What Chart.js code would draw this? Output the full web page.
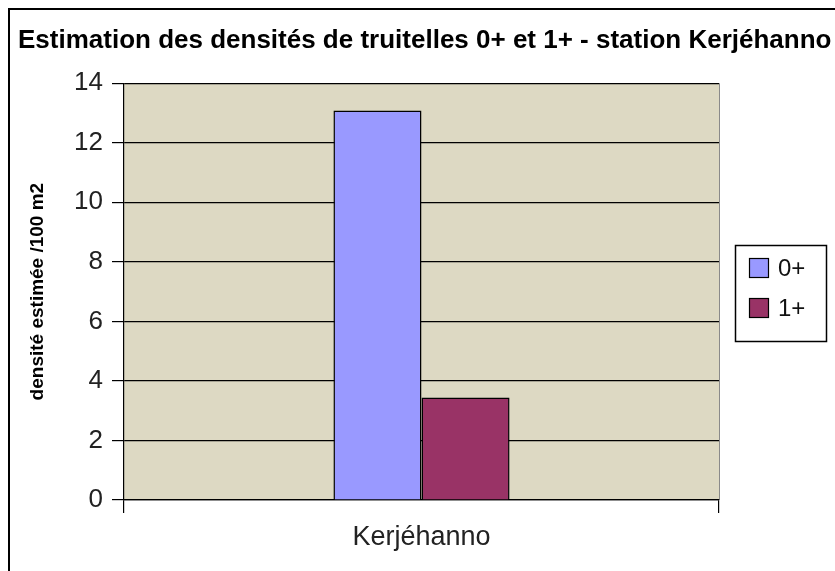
<!DOCTYPE html>
<html>
<head>
<meta charset="utf-8">
<script src="https://cdn.jsdelivr.net/npm/chart.js@4.4.1/dist/chart.umd.min.js"></script>
<style>
html,body{margin:0;padding:0;background:#fff;}
#wrap{width:835px;height:571px;}
</style>
</head>
<body>
<div id="wrap"><canvas id="c" width="835" height="571"></canvas></div>
<script>
// ---- data ----
const categories = ['Kerjéhanno'];
const seriesNames = ['0+', '1+'];
const values0 = [13.08];
const values1 = [3.44];
const yTicks = [0, 2, 4, 6, 8, 10, 12, 14];
const titleText = 'Estimation des densités de truitelles 0+ et 1+ - station Kerjéhanno';
const yTitle = 'densité estimée /100 m2';

const FONT = "'Liberation Sans', Arial, sans-serif";

const bgPlugin = {
  id: 'bg',
  beforeDraw(chart) {
    const {ctx, chartArea: a} = chart;
    ctx.save();
    ctx.fillStyle = '#fff';
    ctx.fillRect(0, 0, chart.width, chart.height);
    ctx.fillStyle = '#DDD9C3';
    ctx.fillRect(a.left, a.top, a.right - a.left, a.bottom - a.top);
    ctx.strokeStyle = '#8a8a8a';
    ctx.lineWidth = 1;
    ctx.beginPath();
    ctx.moveTo(a.right + 0.5, a.top);
    ctx.lineTo(a.right + 0.5, a.bottom);
    ctx.stroke();
    // outer frame
    ctx.strokeStyle = '#000';
    ctx.lineWidth = 2;
    ctx.beginPath();
    ctx.moveTo(9, chart.height);
    ctx.lineTo(9, 9);
    ctx.lineTo(chart.width, 9);
    ctx.stroke();
    ctx.restore();
  }
};

const legendPlugin = {
  id: 'boxLegend',
  afterDraw(chart) {
    const ctx = chart.ctx;
    const bx = 735, by = 245, bw = 91, bh = 96;
    ctx.save();
    ctx.fillStyle = '#fff';
    ctx.fillRect(bx, by, bw, bh);
    ctx.strokeStyle = '#000';
    ctx.lineWidth = 1.5;
    ctx.strokeRect(bx + 0.5, by + 0.5, bw, bh);
    chart.data.datasets.forEach((ds, i) => {
      const sy = 258 + i * 40;
      ctx.fillStyle = ds.backgroundColor;
      ctx.fillRect(749, sy, 20, 20);
      ctx.strokeStyle = '#000';
      ctx.lineWidth = 1.2;
      ctx.strokeRect(749.5, sy + 0.5, 19, 19);
      ctx.fillStyle = '#111';
      ctx.font = '24px ' + FONT;
      ctx.textBaseline = 'middle';
      ctx.textAlign = 'left';
      ctx.fillText(ds.label, 778, sy + 11);
    });
    ctx.restore();
  }
};

new Chart(document.getElementById('c'), {
  type: 'bar',
  data: {
    labels: categories,
    datasets: [
      {label: seriesNames[0], data: values0, backgroundColor: '#9999FF', borderColor: '#000', borderWidth: 1.5},
      {label: seriesNames[1], data: values1, backgroundColor: '#993366', borderColor: '#000', borderWidth: 1.5}
    ]
  },
  options: {
    responsive: false,
    animation: false,
    devicePixelRatio: 1,
    layout: {padding: {left: 18, right: 0, top: 0, bottom: 0}},
    categoryPercentage: 0.296,
    barPercentage: 1,
    plugins: {
      legend: {display: false},
      tooltip: {enabled: false},
      title: {
        display: true,
        text: titleText,
        align: 'start',
        color: '#000',
        font: {family: FONT, size: 26, weight: 'bold'},
        padding: {top: 25, bottom: 27}
      }
    },
    scales: {
      x: {
        grid: {display: true, drawOnChartArea: false, drawTicks: true, tickLength: 13, color: '#000', lineWidth: 1.2},
        border: {display: true, color: '#000', width: 1.2},
        ticks: {color: '#222', font: {family: FONT, size: 27}, padding: 8},
        afterFit(s) { s.height = 71; }
      },
      y: {
        min: 0, max: 14,
        afterBuildTicks(s) { s.ticks = yTicks.map(v => ({value: v})); },
        grid: {color: '#000', lineWidth: 1.2, drawTicks: true, tickLength: 12},
        border: {display: true, color: '#000', width: 1.2},
        ticks: {color: '#222', font: {family: FONT, size: 26}, padding: 9},
        title: {display: true, text: yTitle, color: '#000', font: {family: FONT, size: 19, weight: 'bold'}, padding: {top: 8, bottom: 0}},
        afterFit(s) { s.width = 106; }
      },
      yR: {
        position: 'right',
        display: true,
        grid: {display: false, drawTicks: false},
        border: {display: false},
        ticks: {display: false},
        afterFit(s) { s.width = 116; }
      }
    }
  },
  plugins: [bgPlugin, legendPlugin]
});
</script>
</body>
</html>
